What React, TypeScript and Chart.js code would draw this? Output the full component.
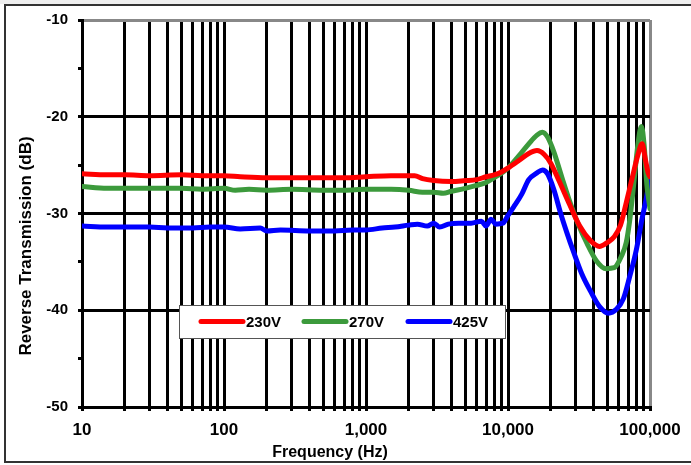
import React, { useEffect, useRef } from "react";
import { Chart, registerables } from "chart.js";

Chart.register(...registerables);

// ---- Data ----
const seriesLabels = ["230V", "270V", "425V"];
const seriesColors = ["#ff0000", "#3c9a3c", "#0000ff"];

const freq230 = [10, 15, 20, 30, 50, 70, 100, 130, 200, 300, 500, 700, 1000, 1500, 2200, 2500, 3000, 4000, 5000, 6000, 7000, 8000, 9000, 10000, 12000, 14000, 16000, 18000, 20000, 23000, 27000, 32000, 38000, 44000, 50000, 56000, 62000, 68000, 75000, 82000, 88000, 93000, 97000, 100000];
const db230 = [-25.9, -26.0, -26.0, -26.1, -26.0, -26.1, -26.1, -26.2, -26.3, -26.3, -26.3, -26.3, -26.2, -26.1, -26.1, -26.4, -26.6, -26.7, -26.6, -26.5, -26.2, -26.0, -25.7, -25.3, -24.5, -23.8, -23.5, -23.9, -24.8, -26.7, -29.0, -31.3, -32.8, -33.4, -33.0, -32.4, -31.2, -28.9, -26.3, -24.0, -22.8, -24.5, -25.8, -26.2];

const freq270 = [10, 15, 20, 30, 50, 70, 100, 120, 150, 200, 300, 500, 700, 1000, 1500, 2000, 2500, 3000, 3500, 4000, 5000, 6000, 7000, 8000, 10000, 12000, 14000, 16000, 17500, 19000, 21000, 24000, 27000, 31000, 36000, 42000, 49000, 56000, 63000, 68000, 72000, 77000, 82000, 87000, 91000, 95000, 100000];
const db270 = [-27.2, -27.4, -27.4, -27.4, -27.4, -27.5, -27.4, -27.6, -27.5, -27.6, -27.5, -27.6, -27.6, -27.5, -27.5, -27.6, -27.8, -27.8, -27.9, -27.7, -27.4, -27.1, -26.8, -26.3, -25.3, -24.0, -22.8, -21.9, -21.6, -22.1, -23.6, -26.3, -28.6, -31.0, -33.1, -34.9, -35.7, -35.6, -34.4, -33.0, -30.7, -26.8, -23.0, -21.0, -23.0, -27.0, -29.5];

const freq425 = [10, 15, 20, 30, 40, 60, 80, 100, 130, 180, 200, 250, 400, 600, 800, 1000, 1300, 1600, 2000, 2300, 2700, 3000, 3300, 3800, 4500, 5500, 6500, 7000, 7600, 8200, 9200, 10000, 11000, 12500, 14000, 16000, 17500, 19000, 21000, 23500, 26000, 29000, 33000, 38000, 44000, 51000, 58000, 65000, 72000, 80000, 88000, 94000, 100000];
const db425 = [-31.3, -31.4, -31.4, -31.4, -31.5, -31.5, -31.4, -31.4, -31.6, -31.5, -31.8, -31.7, -31.8, -31.8, -31.7, -31.7, -31.5, -31.4, -31.2, -31.1, -31.3, -31.0, -31.4, -31.1, -31.0, -31.0, -30.8, -31.3, -30.6, -31.1, -31.0, -30.2, -29.3, -28.0, -26.5, -25.8, -25.5, -25.9, -27.5, -30.0, -32.0, -34.0, -36.2, -38.0, -39.6, -40.3, -39.9, -38.8, -36.5, -33.8, -30.5, -28.5, -26.2];

const xDecades = [10, 100, 1000, 10000, 100000];
const xTickLabels = ["10", "100", "1,000", "10,000", "100,000"];
const yTicks = [-50, -45, -40, -35, -30, -25, -20, -15, -10];
const yTickLabels = ["-50", "", "-40", "", "-30", "", "-20", "", "-10"];
const xTitle = "Frequency (Hz)";
const yTitle = "Reverse Transmission (dB)";

const FONT = "'Liberation Sans', Arial, Helvetica, sans-serif";

function buildXTicks(): number[] {
  const out: number[] = [];
  for (let d = 0; d < xDecades.length - 1; d++) {
    for (let s = 1; s <= 9; s++) out.push(xDecades[d] * s);
  }
  out.push(xDecades[xDecades.length - 1]);
  return out;
}

const framePlugin = {
  id: "frame",
  beforeDraw(chart: any) {
    const ctx = chart.ctx;
    ctx.save();
    ctx.fillStyle = "#ffffff";
    ctx.fillRect(0, 0, chart.width, chart.height);
    ctx.fillStyle = "#efefef";
    ctx.fillRect(0, 0, chart.width, 4);
    ctx.strokeStyle = "#333333";
    ctx.lineWidth = 2;
    ctx.strokeRect(5, 5, chart.width + 10, 457);
    ctx.restore();
  },
  afterDraw(chart: any) {
    const ctx = chart.ctx;
    ctx.save();
    ctx.fillStyle = "#000000";
    ctx.font = "bold 16px " + FONT;
    ctx.textAlign = "center";
    ctx.textBaseline = "alphabetic";
    ctx.fillText(xTitle, 330, 457);
    ctx.translate(31, 246);
    ctx.rotate(-Math.PI / 2);
    ctx.font = "bold 17px " + FONT;
    ctx.fillText(yTitle, 0, 0);
    ctx.restore();
  },
};

const legendPlugin = {
  id: "boxLegend",
  afterDatasetsDraw(chart: any) {
    const ctx = chart.ctx;
    const bx = 179, by = 305, bw = 326, bh = 33;
    ctx.save();
    ctx.fillStyle = "#ffffff";
    ctx.fillRect(bx, by, bw, bh);
    ctx.strokeStyle = "#555555";
    ctx.lineWidth = 1;
    ctx.strokeRect(bx + 0.5, by + 0.5, bw, bh);
    const itemX = [201, 304, 408];
    const cy = by + bh / 2;
    chart.data.datasets.forEach((ds: any, i: number) => {
      ctx.strokeStyle = ds.borderColor;
      ctx.lineWidth = 5;
      ctx.lineCap = "round";
      ctx.beginPath();
      ctx.moveTo(itemX[i], cy);
      ctx.lineTo(itemX[i] + 42, cy);
      ctx.stroke();
      ctx.fillStyle = "#000000";
      ctx.font = "bold 15px " + FONT;
      ctx.textAlign = "left";
      ctx.textBaseline = "middle";
      ctx.fillText(ds.label, itemX[i] + 45, cy + 1);
    });
    ctx.restore();
  },
};

export default function App() {
  const ref = useRef<HTMLCanvasElement | null>(null);

  useEffect(() => {
    if (!ref.current) return;
    const mk = (f: number[], v: number[]) => f.map((x, i) => ({ x, y: v[i] }));
    const seriesData = [mk(freq230, db230), mk(freq270, db270), mk(freq425, db425)];
    const xTickValues = buildXTicks();

    const chart = new Chart(ref.current, {
      type: "line",
      data: {
        datasets: seriesData.map((d, i) => ({
          label: seriesLabels[i],
          data: d,
          borderColor: seriesColors[i],
          backgroundColor: seriesColors[i],
          borderWidth: 5,
          pointRadius: 0,
          cubicInterpolationMode: "monotone" as const,
          borderCapStyle: "round" as const,
          borderJoinStyle: "round" as const,
        })),
      },
      plugins: [framePlugin, legendPlugin],
      options: {
        responsive: false,
        animation: false,
        devicePixelRatio: 1,
        layout: { padding: { left: 0, top: 20, right: 41, bottom: 0 } },
        plugins: {
          legend: { display: false },
          tooltip: { enabled: false },
          title: { display: false },
        },
        scales: {
          x: {
            type: "logarithmic",
            min: 10,
            max: 100000,
            afterBuildTicks: (scale: any) => {
              scale.ticks = xTickValues.map((v) => ({ value: v }));
            },
            afterFit: (scale: any) => {
              scale.height = 58;
            },
            grid: {
              color: (c: any) => (c.tick && c.tick.value === 100000 ? "#888888" : "#000000"),
              lineWidth: 3,
              tickLength: 4,
              tickColor: "#000000",
              drawTicks: true,
            },
            border: { display: true, color: "#000000", width: 3 },
            ticks: {
              autoSkip: false,
              maxRotation: 0,
              minRotation: 0,
              padding: 9,
              color: "#000000",
              font: { family: FONT, size: 17, weight: "bold" },
              callback: (value: any) => {
                const idx = xDecades.indexOf(Number(value));
                return idx >= 0 ? xTickLabels[idx] : "";
              },
            },
          },
          y: {
            type: "linear",
            min: -50,
            max: -10,
            afterBuildTicks: (scale: any) => {
              scale.ticks = yTicks.map((v) => ({ value: v }));
            },
            afterFit: (scale: any) => {
              scale.width = 82;
            },
            grid: {
              color: (c: any) => {
                const v = c.tick ? c.tick.value : 0;
                if (v === -10) return "#888888";
                return v % 10 === 0 ? "#000000" : "rgba(0,0,0,0)";
              },
              lineWidth: 3,
              tickLength: 4,
              tickColor: "#000000",
              drawTicks: true,
            },
            border: { display: true, color: "#000000", width: 3 },
            ticks: {
              autoSkip: false,
              padding: 10,
              color: "#000000",
              font: { family: FONT, size: 15, weight: "bold" },
              callback: (value: any) => {
                const idx = yTicks.indexOf(Number(value));
                return idx >= 0 ? yTickLabels[idx] : "";
              },
            },
          },
        },
      } as any,
    });
    return () => chart.destroy();
  }, []);

  return (
    <div style={{ position: "absolute", left: 0, top: 0, width: 691, height: 465 }}>
      <canvas ref={ref} width={691} height={465} style={{ display: "block", width: 691, height: 465 }} />
    </div>
  );
}
